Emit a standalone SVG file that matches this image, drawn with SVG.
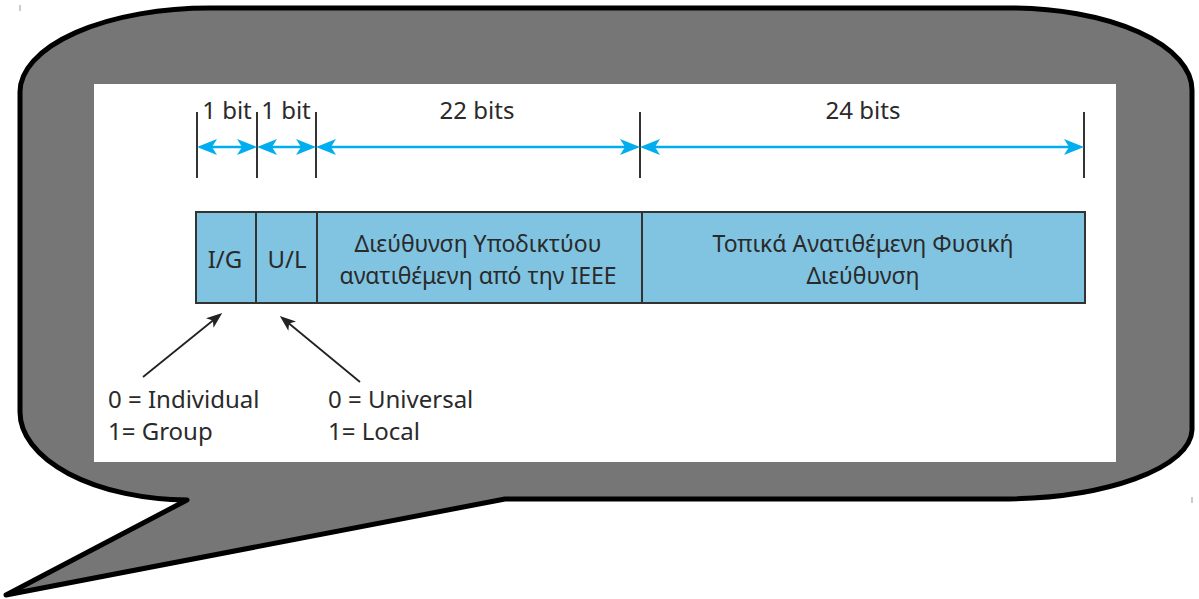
<svg xmlns="http://www.w3.org/2000/svg" width="1199" height="599" viewBox="0 0 1199 599">
  <style>
    text { font-family: "Noto Sans", "Open Sans", "DejaVu Sans", sans-serif; fill: #2a2a2a; }
    .lbl { font-size: 24px; text-anchor: middle; }
    .fl { font-size: 23px; text-anchor: middle; }
    .note { font-size: 24px; }
    .field { fill: #80C4E2; stroke: #333333; stroke-width: 2; }
    .tick { stroke: #333333; stroke-width: 2; }
    .dim { stroke: #00AEEF; stroke-width: 2.5; fill: none; marker-start: url(#blueHead); marker-end: url(#blueHead); }
    .ptr { stroke: #222222; stroke-width: 1.8; fill: none; marker-end: url(#blackHead); }
  </style>
  <defs>
    <marker id="blueHead" viewBox="0 0 20 16" refX="10" refY="8" markerWidth="20" markerHeight="16" markerUnits="userSpaceOnUse" orient="auto-start-reverse">
      <path d="M0,0 L20,8 L0,16 L5,8 Z" fill="#00AEEF"/>
    </marker>
    <marker id="blackHead" viewBox="0 0 16 12" refX="8" refY="6" markerWidth="16" markerHeight="12" markerUnits="userSpaceOnUse" orient="auto">
      <path d="M0,0 L16,6 L0,12 L4,6 Z" fill="#222222"/>
    </marker>
  </defs>

  <rect width="1199" height="599" fill="#ffffff"/>

  <g id="callout">
    <path d="M 20 92 A 190 84 0 0 1 210 8 L 1010 8 A 182 82 0 0 1 1192 90 L 1192 430 A 192 70 0 0 1 1000 499 L 505 499 L 6 595 L 187 500 A 170 88 0 0 1 20 412 Z" fill="#767676" stroke="#000000" stroke-width="5" stroke-linejoin="round"/>
    <rect x="94" y="84" width="1022" height="378" fill="#ffffff"/>
    <rect x="19.5" y="5" width="1" height="6" fill="#999999"/>
    <rect x="1191.5" y="497" width="1" height="6" fill="#999999"/>
  </g>

  <g id="ticks">
    <line class="tick" x1="197" y1="112" x2="197" y2="178"/>
    <line class="tick" x1="257" y1="112" x2="257" y2="178"/>
    <line class="tick" x1="316" y1="112" x2="316" y2="178"/>
    <line class="tick" x1="640" y1="112" x2="640" y2="178"/>
    <line class="tick" x1="1084" y1="112" x2="1084" y2="178"/>
  </g>

  <g id="dim-labels">
    <text class="lbl" x="227" y="119">1 bit</text>
    <text class="lbl" x="286" y="119">1 bit</text>
    <text class="lbl" x="477" y="119">22 bits</text>
    <text class="lbl" x="863" y="119">24 bits</text>
  </g>

  <g id="field-ig">
    <rect class="field" x="196" y="212" width="60" height="91"/>
    <text class="lbl" x="225" y="268">I/G</text>
  </g>
  <g id="field-ul">
    <rect class="field" x="256" y="212" width="61" height="91"/>
    <text class="lbl" x="287" y="268">U/L</text>
  </g>
  <g id="field-oui">
    <rect class="field" x="317" y="212" width="325" height="91"/>
    <text class="fl" x="478" y="252">Διεύθυνση Υποδικτύου</text>
    <text class="fl" x="478" y="284">ανατιθέμενη από την IEEE</text>
  </g>
  <g id="field-nic">
    <rect class="field" x="642" y="212" width="443" height="91"/>
    <text class="fl" x="863" y="252">Τοπικά Ανατιθέμενη Φυσική</text>
    <text class="fl" x="863" y="284">Διεύθυνση</text>
  </g>

  <g id="note-ig">
    <text class="note" x="108" y="408">0 = Individual</text>
    <text class="note" x="108" y="440">1= Group</text>
  </g>
  <g id="note-ul">
    <text class="note" x="328" y="408">0 = Universal</text>
    <text class="note" x="328" y="440">1= Local</text>
  </g>

  <g id="connectors">
    <line class="dim" x1="207" y1="147" x2="247" y2="147"/>
    <line class="dim" x1="267" y1="147" x2="306" y2="147"/>
    <line class="dim" x1="326" y1="147" x2="630" y2="147"/>
    <line class="dim" x1="650" y1="147" x2="1074" y2="147"/>
    <line class="ptr" x1="143" y1="377" x2="216" y2="318"/>
    <line class="ptr" x1="360" y1="382" x2="286" y2="321"/>
  </g>
</svg>
